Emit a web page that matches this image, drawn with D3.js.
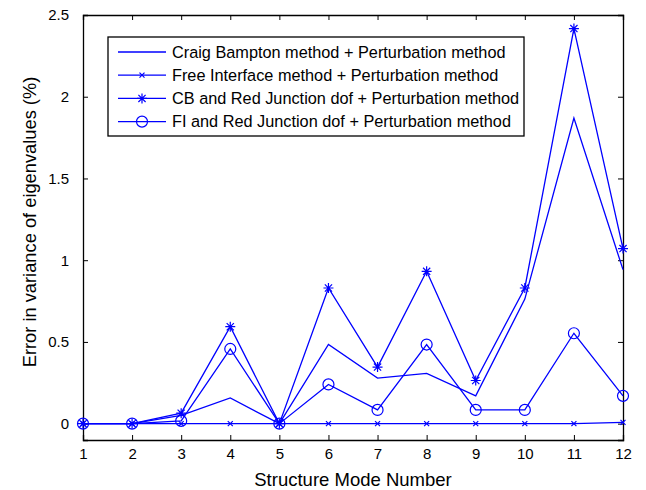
<!DOCTYPE html>
<html>
<head>
<meta charset="utf-8">
<script src="https://cdn.jsdelivr.net/npm/d3@7"></script>
<style>
body { margin: 0; background: #fff; }
text { font-family: "Liberation Sans", Arial, sans-serif; fill: #000; }
</style>
</head>
<body>
<script>
// mode numbers on the x axis
var modes = [1, 2, 3, 4, 5, 6, 7, 8, 9, 10, 11, 12];

// error values (%) per method
var cbPert = [0, 0, 0.05, 0.157, 0, 0.485, 0.279, 0.307, 0.17, 0.762, 1.87, 0.942];
var fiPert = [0, 0, 0, 0, 0, 0, 0, 0, 0, 0, 0, 0.008];
var cbRedPert = [0, 0, 0.064, 0.593, 0, 0.83, 0.346, 0.932, 0.264, 0.83, 2.417, 1.071];
var fiRedPert = [0, 0, 0.017, 0.457, 0, 0.24, 0.084, 0.484, 0.084, 0.084, 0.553, 0.17];

var seriesNames = [
	"Craig Bampton method + Perturbation method",
	"Free Interface method + Perturbation method",
	"CB and Red Junction dof + Perturbation method",
	"FI and Red Junction dof + Perturbation method"
];
var seriesMarkers = ["none", "x", "star", "circle"];
var seriesValues = [cbPert, fiPert, cbRedPert, fiRedPert];

var yTicks = [0, 0.5, 1, 1.5, 2, 2.5];

var blue = "#0000ff";

var W = 646, H = 490;
var margin = {left: 83, right: 23, top: 15, bottom: 50};

var svg = d3.select("body")
	.append("svg")
	.attr("width", W)
	.attr("height", H);

var x = d3.scaleLinear().domain([1, 12]).range([margin.left, W - margin.right]);
var y = d3.scaleLinear().domain([-0.1, 2.5]).range([H - margin.bottom, margin.top]);

// axes with inward ticks (matlab style)
var tickLen = 5;
var axBottom = svg.append("g")
	.attr("transform", "translate(0," + y(-0.1) + ")")
	.call(d3.axisBottom(x).tickValues(modes).tickSize(-tickLen).tickPadding(8).tickFormat(d3.format("d")));
var axTop = svg.append("g")
	.attr("transform", "translate(0," + y(2.5) + ")")
	.call(d3.axisTop(x).tickValues(modes).tickSize(-tickLen).tickFormat(""));
var axLeft = svg.append("g")
	.attr("transform", "translate(" + x(1) + ",0)")
	.call(d3.axisLeft(y).tickValues(yTicks).tickSize(-tickLen).tickPadding(14).tickFormat(d3.format("")));
var axRight = svg.append("g")
	.attr("transform", "translate(" + x(12) + ",0)")
	.call(d3.axisRight(y).tickValues(yTicks).tickSize(-tickLen).tickFormat(""));

[axBottom, axTop, axLeft, axRight].forEach(function (g) {
	g.select(".domain").attr("stroke", "#000").attr("stroke-width", 1.3);
	g.selectAll(".tick line").attr("stroke", "#000");
	g.selectAll(".tick text").style("font-size", "15px").style("font-family", "Liberation Sans, Arial, sans-serif");
});

// marker drawing helper
function drawMarker(g, type, cx, cy) {
	if (type == "x") {
		g.append("path")
			.attr("d", "M" + (cx - 2.5) + "," + (cy - 2.5) + "L" + (cx + 2.5) + "," + (cy + 2.5) +
				"M" + (cx - 2.5) + "," + (cy + 2.5) + "L" + (cx + 2.5) + "," + (cy - 2.5))
			.attr("stroke", blue).attr("stroke-width", 1.2).attr("fill", "none");
	} else if (type == "star") {
		var r = 5, d = 3.6;
		g.append("path")
			.attr("d", "M" + (cx - r) + "," + cy + "L" + (cx + r) + "," + cy +
				"M" + cx + "," + (cy - r) + "L" + cx + "," + (cy + r) +
				"M" + (cx - d) + "," + (cy - d) + "L" + (cx + d) + "," + (cy + d) +
				"M" + (cx - d) + "," + (cy + d) + "L" + (cx + d) + "," + (cy - d))
			.attr("stroke", blue).attr("stroke-width", 1.2).attr("fill", "none");
	} else if (type == "circle") {
		g.append("circle")
			.attr("cx", cx).attr("cy", cy).attr("r", 5.5)
			.attr("stroke", blue).attr("stroke-width", 1.2).attr("fill", "none");
	}
}

var line = d3.line()
	.x(function (d, i) { return x(modes[i]); })
	.y(function (d) { return y(d); });

seriesValues.forEach(function (vals, s) {
	var g = svg.append("g");
	g.append("path")
		.datum(vals)
		.attr("d", line)
		.attr("fill", "none")
		.attr("stroke", blue)
		.attr("stroke-width", 1.3);
	vals.forEach(function (v, i) {
		drawMarker(g, seriesMarkers[s], x(modes[i]), y(v));
	});
});

// legend
var lg = svg.append("g");
lg.append("rect")
	.attr("x", 108).attr("y", 37)
	.attr("width", 416).attr("height", 99)
	.attr("fill", "#fff").attr("stroke", "#000").attr("stroke-width", 1.3);

seriesNames.forEach(function (name, i) {
	var ly = 52 + i * 23.2;
	lg.append("line")
		.attr("x1", 118).attr("x2", 166)
		.attr("y1", ly).attr("y2", ly)
		.attr("stroke", blue).attr("stroke-width", 1.3);
	drawMarker(lg, seriesMarkers[i], 142, ly);
	lg.append("text")
		.attr("x", 172).attr("y", ly + 5.5)
		.style("font-size", "16.3px")
		.text(name);
});

// axis titles
svg.append("text")
	.attr("x", (x(1) + x(12)) / 2)
	.attr("y", 486)
	.attr("text-anchor", "middle")
	.style("font-size", "18.5px")
	.text("Structure Mode Number");

svg.append("text")
	.attr("transform", "translate(36," + 222 + ") rotate(-90)")
	.attr("text-anchor", "middle")
	.style("font-size", "18.3px")
	.text("Error in variance of eigenvalues (%)");
</script>
</body>
</html>
